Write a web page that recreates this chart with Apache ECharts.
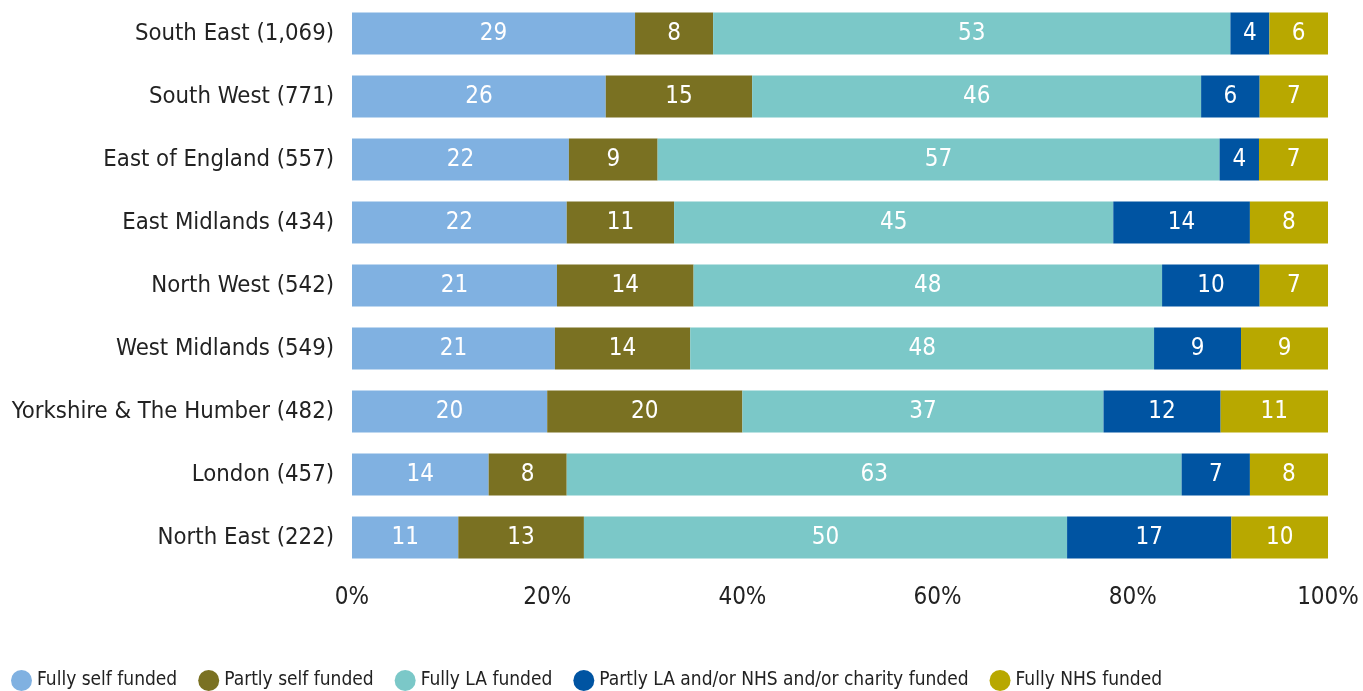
<!DOCTYPE html>
<html><head><meta charset="utf-8">
<script src="https://cdn.jsdelivr.net/npm/echarts@6/dist/echarts.min.js"></script>
<style>html,body{margin:0;padding:0;background:#fff}#c{width:1363px;height:691px}</style>
</head><body><div id="c"></div>
<script>
const categories = ['South East (1,069)','South West (771)','East of England (557)','East Midlands (434)','North West (542)','West Midlands (549)','Yorkshire & The Humber (482)','London (457)','North East (222)'];
const seriesNames = ['Fully self funded','Partly self funded','Fully LA funded','Partly LA and/or NHS and/or charity funded','Fully NHS funded'];
const fullySelf   = [29,26,22,22,21,21,20,14,11];
const partlySelf  = [8,15,9,11,14,14,20,8,13];
const fullyLA     = [53,46,57,45,48,48,37,63,50];
const partlyLA    = [4,6,4,14,10,9,12,7,17];
const fullyNHS    = [6,7,7,8,7,9,11,8,10];
const xTicks = ['0%','20%','40%','60%','80%','100%'];
const colors = ['#80b1e1','#7a7122','#7bc8c8','#0054a2','#b8a800'];

const raw = [fullySelf, partlySelf, fullyLA, partlyLA, fullyNHS];
const totals = categories.map((_, i) => raw.reduce((s, a) => s + a[i], 0));
const FONT = '"Liberation Sans Narrow","DejaVu Sans Condensed","Noto Sans",sans-serif';

const chart = echarts.init(document.getElementById('c'));
chart.setOption({
  animation: false,
  textStyle: {fontFamily: FONT},
  grid: {left: 352, right: 35, top: 2, bottom: 122, containLabel: false},
  legend: {
    left: 6, top: 665, itemGap: 21, itemWidth: 21, itemHeight: 21,
    icon: 'circle',
    textStyle: {fontFamily: FONT, fontSize: 19, color: '#222'},
    data: seriesNames
  },
  xAxis: {
    type: 'value', min: 0, max: 100, interval: 20,
    axisLine: {show: false}, axisTick: {show: false}, splitLine: {show: false},
    axisLabel: {fontFamily: FONT, fontSize: 24, color: '#222', margin: 17,
      formatter: (v) => xTicks[Math.round(v / 20)]}
  },
  yAxis: {
    type: 'category', data: categories, inverse: true,
    axisLine: {show: false}, axisTick: {show: false},
    axisLabel: {fontFamily: FONT, fontSize: 23.7, color: '#222', margin: 18}
  },
  series: raw.map((arr, k) => ({
    name: seriesNames[k], type: 'bar', stack: 'total', barWidth: 42,
    itemStyle: {color: colors[k]},
    label: {show: true, position: 'inside', color: '#fff', fontFamily: FONT, fontSize: 24,
      formatter: (p) => String(arr[p.dataIndex])},
    data: arr.map((v, i) => v / totals[i] * 100)
  }))
});
</script></body></html>
